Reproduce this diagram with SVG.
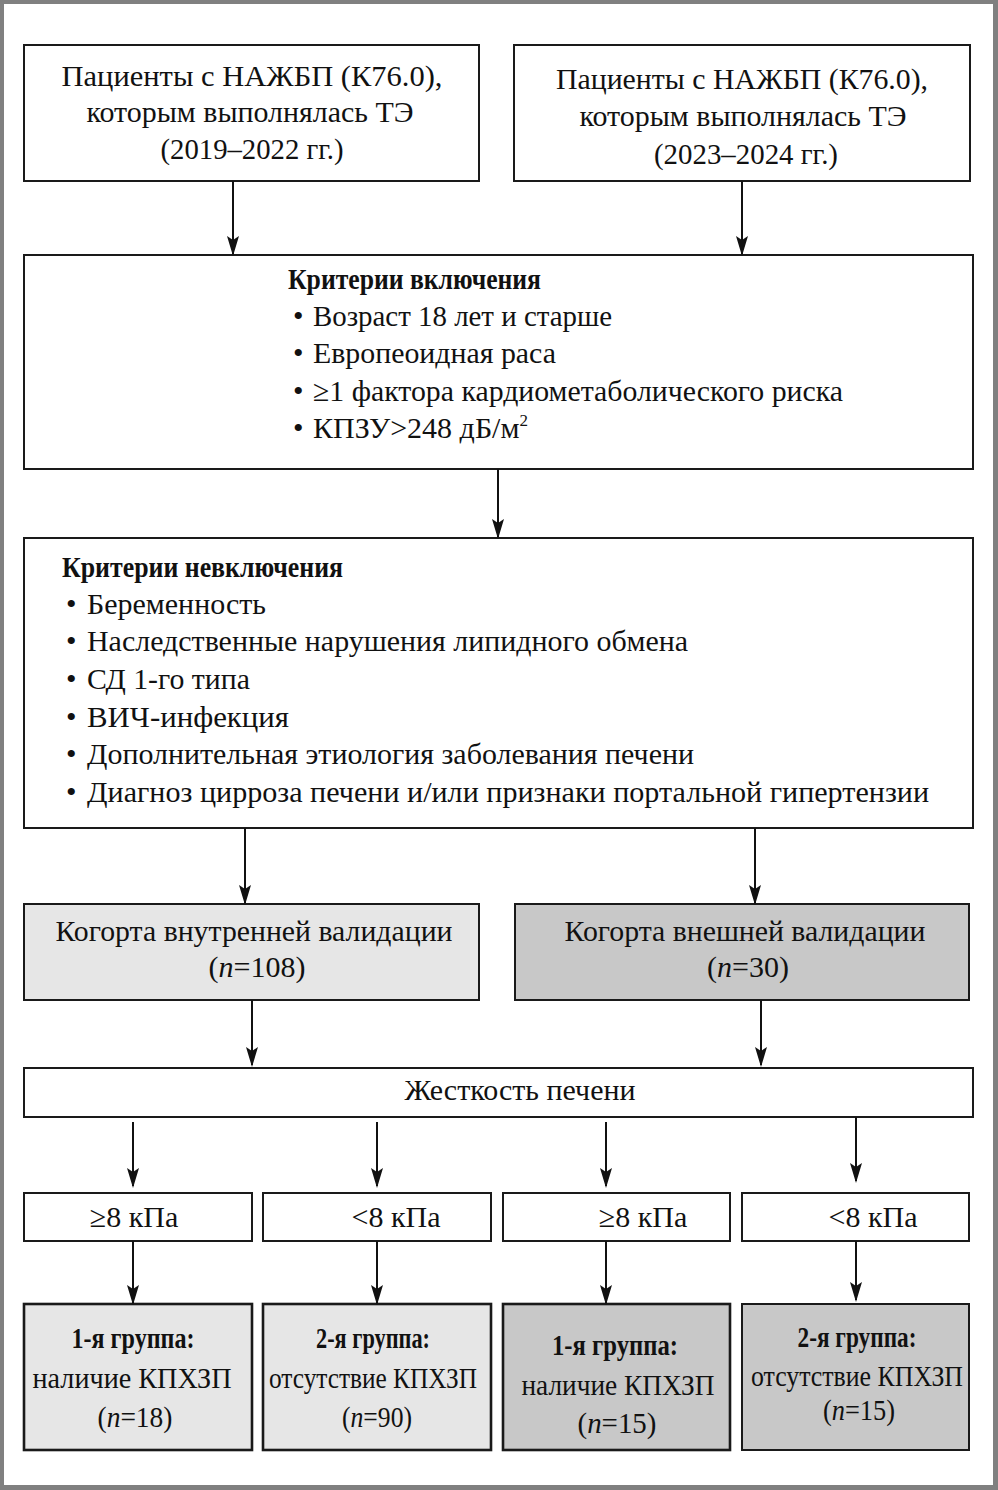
<svg xmlns="http://www.w3.org/2000/svg" width="998" height="1490" viewBox="0 0 998 1490">
<style>
  .box{stroke:#1a1a1a;stroke-width:2;fill:#fff}
  .l1{fill:#e6e6e6}
  .l2{fill:#c8c8c8}
  .bold{stroke-width:2.6}
  text{font-family:"Liberation Serif","Times New Roman",serif;font-size:30px;fill:#111}
  .c{text-anchor:middle}
  .b{font-weight:bold}
  .i{font-style:italic}
  .conn line{stroke:#111;stroke-width:2;marker-end:url(#ah)}
</style>
<defs>
  <marker id="ah" markerUnits="userSpaceOnUse" markerWidth="12" markerHeight="20" refX="6" refY="18" orient="0" viewBox="0 0 12 20">
    <path d="M0,0 L6,4 L12,0 L6,20 Z" fill="#111"/>
  </marker>
</defs>
<rect x="0" y="0" width="998" height="1490" fill="#808080"/>
<rect x="4" y="4" width="989" height="1481" fill="#fff"/>

<g id="nodeA">
  <rect class="box" x="24" y="45" width="455" height="136"/>
  <text class="c" x="252" y="86" textLength="381" lengthAdjust="spacingAndGlyphs">Пациенты с НАЖБП (К76.0),</text>
  <text class="c" x="250" y="122" textLength="327" lengthAdjust="spacingAndGlyphs">которым выполнялась ТЭ</text>
  <text class="c" x="252" y="159" textLength="183" lengthAdjust="spacingAndGlyphs">(2019–2022 гг.)</text>
</g>
<g id="nodeB">
  <rect class="box" x="514" y="45" width="456" height="136"/>
  <text class="c" x="742" y="89" textLength="372" lengthAdjust="spacingAndGlyphs">Пациенты с НАЖБП (К76.0),</text>
  <text class="c" x="743" y="126" textLength="327" lengthAdjust="spacingAndGlyphs">которым выполнялась ТЭ</text>
  <text class="c" x="746" y="164" textLength="184" lengthAdjust="spacingAndGlyphs">(2023–2024 гг.)</text>
</g>
<g id="nodeC">
  <rect class="box" x="24" y="255" width="949" height="214"/>
  <text class="b" x="288" y="289" textLength="253" lengthAdjust="spacingAndGlyphs">Критерии включения</text>
  <text x="293" y="326">•</text>
  <text x="313" y="326" textLength="299" lengthAdjust="spacingAndGlyphs">Возраст 18 лет и старше</text>
  <text x="293" y="363">•</text>
  <text x="313" y="363" textLength="243" lengthAdjust="spacingAndGlyphs">Европеоидная раса</text>
  <text x="293" y="401">•</text>
  <text x="313" y="401" textLength="530" lengthAdjust="spacingAndGlyphs">≥1 фактора кардиометаболического риска</text>
  <text x="293" y="438">•</text>
  <text x="313" y="438">КПЗУ&gt;248 дБ/м<tspan font-size="17" dy="-12">2</tspan></text>
</g>
<g id="nodeD">
  <rect class="box" x="24" y="538" width="949" height="290"/>
  <text class="b" x="62" y="577" textLength="281" lengthAdjust="spacingAndGlyphs">Критерии невключения</text>
  <text x="66" y="614">•</text>
  <text x="87" y="614" textLength="179" lengthAdjust="spacingAndGlyphs">Беременность</text>
  <text x="66" y="651">•</text>
  <text x="87" y="651" textLength="601" lengthAdjust="spacingAndGlyphs">Наследственные нарушения липидного обмена</text>
  <text x="66" y="689">•</text>
  <text x="87" y="689" textLength="163" lengthAdjust="spacingAndGlyphs">СД 1-го типа</text>
  <text x="66" y="727">•</text>
  <text x="87" y="727" textLength="202" lengthAdjust="spacingAndGlyphs">ВИЧ-инфекция</text>
  <text x="66" y="764">•</text>
  <text x="87" y="764" textLength="607" lengthAdjust="spacingAndGlyphs">Дополнительная этиология заболевания печени</text>
  <text x="66" y="802">•</text>
  <text x="87" y="802" textLength="842" lengthAdjust="spacingAndGlyphs">Диагноз цирроза печени и/или признаки портальной гипертензии</text>
</g>
<g id="nodeE">
  <rect class="box l1" x="24" y="904" width="455" height="96"/>
  <text class="c" x="254" y="941" textLength="397" lengthAdjust="spacingAndGlyphs">Когорта внутренней валидации</text>
  <text class="c" x="257" y="977">(<tspan class="i">n</tspan>=108)</text>
</g>
<g id="nodeF">
  <rect class="box l2" x="515" y="904" width="454" height="96"/>
  <text class="c" x="745" y="941" textLength="361" lengthAdjust="spacingAndGlyphs">Когорта внешней валидации</text>
  <text class="c" x="748" y="977">(<tspan class="i">n</tspan>=30)</text>
</g>
<g id="nodeG">
  <rect class="box" x="24" y="1068" width="949" height="49"/>
  <text class="c" x="520" y="1100" textLength="231" lengthAdjust="spacingAndGlyphs">Жесткость печени</text>
</g>
<g id="nodeH1">
  <rect class="box" x="24" y="1193" width="228" height="48"/>
  <text class="c" x="134" y="1227">≥8 кПа</text>
</g>
<g id="nodeH2">
  <rect class="box" x="263" y="1193" width="228" height="48"/>
  <text class="c" x="396" y="1227">&lt;8 кПа</text>
</g>
<g id="nodeH3">
  <rect class="box" x="503" y="1193" width="227" height="48"/>
  <text class="c" x="643" y="1227">≥8 кПа</text>
</g>
<g id="nodeH4">
  <rect class="box" x="742" y="1193" width="227" height="48"/>
  <text class="c" x="873" y="1227">&lt;8 кПа</text>
</g>
<g id="nodeI1">
  <rect class="box l1 bold" x="24" y="1304" width="228" height="146"/>
  <text class="c b" x="133" y="1348" textLength="123" lengthAdjust="spacingAndGlyphs">1-я группа:</text>
  <text class="c" x="132" y="1388" textLength="199" lengthAdjust="spacingAndGlyphs">наличие КПХЗП</text>
  <text class="c" x="135" y="1427" textLength="75" lengthAdjust="spacingAndGlyphs">(<tspan class="i">n</tspan>=18)</text>
</g>
<g id="nodeI2">
  <rect class="box l1 bold" x="263" y="1304" width="228" height="146"/>
  <text class="c b" x="373" y="1348" textLength="114" lengthAdjust="spacingAndGlyphs">2-я группа:</text>
  <text class="c" x="373" y="1388" textLength="208" lengthAdjust="spacingAndGlyphs">отсутствие КПХЗП</text>
  <text class="c" x="377" y="1427" textLength="70" lengthAdjust="spacingAndGlyphs">(<tspan class="i">n</tspan>=90)</text>
</g>
<g id="nodeI3">
  <rect class="box l2 bold" x="503" y="1304" width="227" height="146"/>
  <text class="c b" x="615" y="1355" font-size="32" textLength="126" lengthAdjust="spacingAndGlyphs">1-я группа:</text>
  <text class="c" x="618" y="1395" font-size="32" textLength="193" lengthAdjust="spacingAndGlyphs">наличие КПХЗП</text>
  <text class="c" x="617" y="1433" font-size="32" textLength="79" lengthAdjust="spacingAndGlyphs">(<tspan class="i">n</tspan>=15)</text>
</g>
<g id="nodeI4">
  <rect class="box l2" x="742" y="1304" width="227" height="146"/>
  <text class="c b" x="857" y="1347" textLength="119" lengthAdjust="spacingAndGlyphs">2-я группа:</text>
  <text class="c" x="857" y="1386" textLength="212" lengthAdjust="spacingAndGlyphs">отсутствие КПХЗП</text>
  <text class="c" x="859" y="1420" textLength="72" lengthAdjust="spacingAndGlyphs">(<tspan class="i">n</tspan>=15)</text>
</g>

<g id="connectors" class="conn">
  <line x1="233" y1="181" x2="233" y2="254"/>
  <line x1="742" y1="181" x2="742" y2="254"/>
  <line x1="498" y1="469" x2="498" y2="537"/>
  <line x1="245" y1="828" x2="245" y2="903"/>
  <line x1="755" y1="828" x2="755" y2="903"/>
  <line x1="252" y1="1000" x2="252" y2="1065"/>
  <line x1="761" y1="1000" x2="761" y2="1065"/>
  <line x1="133" y1="1122" x2="133" y2="1186"/>
  <line x1="377" y1="1122" x2="377" y2="1186"/>
  <line x1="606" y1="1122" x2="606" y2="1186"/>
  <line x1="856" y1="1117" x2="856" y2="1181"/>
  <line x1="133" y1="1241" x2="133" y2="1303"/>
  <line x1="377" y1="1241" x2="377" y2="1303"/>
  <line x1="606" y1="1241" x2="606" y2="1303"/>
  <line x1="856" y1="1241" x2="856" y2="1300"/>
</g>
</svg>
